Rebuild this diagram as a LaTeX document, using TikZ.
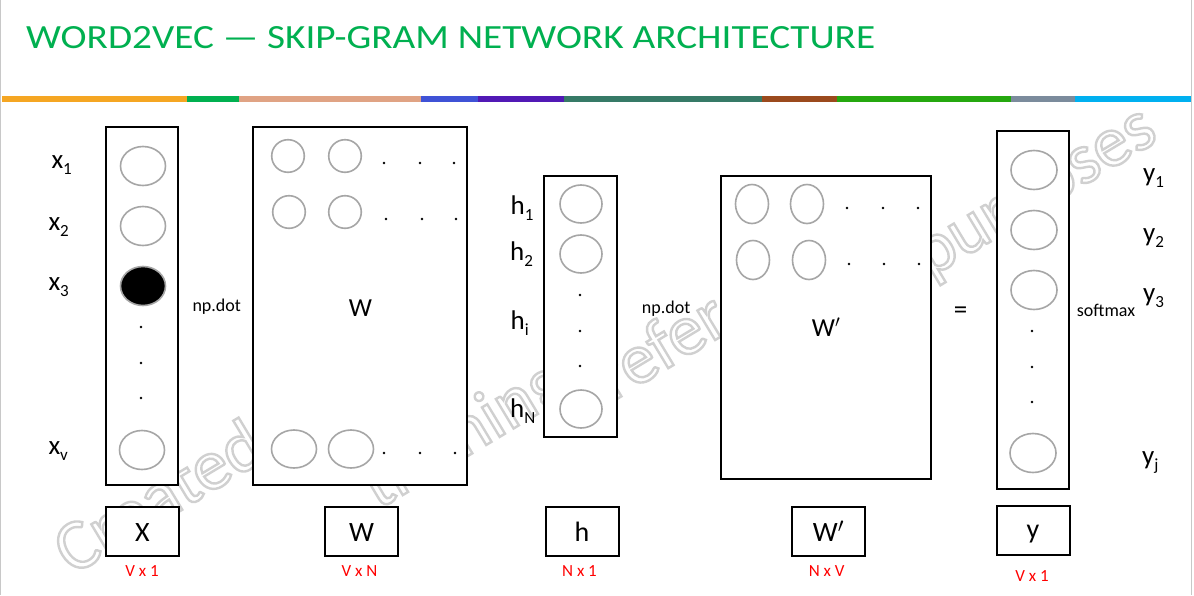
\documentclass[tikz,border=0pt]{standalone}
\usepackage{fontspec}
\setmainfont{Carlito}
\usepackage{graphicx}
\definecolor{titlegreen}{HTML}{00B050}
\definecolor{cA}{HTML}{F5A623}
\definecolor{cB}{HTML}{00B050}
\definecolor{cC}{HTML}{E0A384}
\definecolor{cD}{HTML}{3F52D6}
\definecolor{cE}{HTML}{5119B5}
\definecolor{cF}{HTML}{367A67}
\definecolor{cG}{HTML}{9B4A1D}
\definecolor{cH}{HTML}{25A80F}
\definecolor{cI}{HTML}{7B8B9C}
\definecolor{cJ}{HTML}{00B0F0}
\definecolor{cellgray}{HTML}{A6A6A6}
\definecolor{edgegray}{HTML}{C8C8C8}
\definecolor{wmgray}{HTML}{D0D0D0}
\newcommand\fsz[1]{\fontsize{#1}{#1}\selectfont}
\newcommand\sublab[2]{\fsz{27}#1\raisebox{-6.4pt}{\fsz{17}#2}}
\newcommand\strokeon{\special{pdf:literal direct 1 Tr 2.4 w}}
\newcommand\strokeoff{\special{pdf:literal direct 0 Tr}}
\newcommand\wmtext[1]{\strokeon #1\strokeoff}
\begin{document}
\begin{tikzpicture}[x=1pt,y=-1pt,
  bigbox/.style={draw=black, line width=2pt, fill=white},
  cell/.style={draw=cellgray, line width=1.6pt},
  smallbox/.style={draw=black, line width=2pt, fill=white, minimum width=73pt, minimum height=49pt, inner sep=0pt},
  lab/.style={anchor=base west, inner sep=0pt},
  small/.style={anchor=base west, inner sep=0pt, font=\fsz{18}},
  dimlab/.style={anchor=base, inner sep=0pt, text=red, font=\fsz{17}},
  boxlet/.style={anchor=base, inner sep=0pt, font=\fsz{28}},
  wm/.style={rotate=31, anchor=base west, inner sep=0pt, text=wmgray, font=\fsz{72}}]
\useasboundingbox (0,0) rectangle (1194,595);
\fill[white] (0,0) rectangle (1194,595);
\draw[edgegray, line width=1.2pt] (0.8,0) -- (0.8,595);
\draw[edgegray, line width=1.5pt] (1191.5,0) -- (1191.5,595);
% title
\node[anchor=south west, inner sep=0pt, text=titlegreen] (title) at (26,49)
  {\resizebox{849pt}{22pt}{WORD2VEC — SKIP-GRAM NETWORK ARCHITECTURE}};
% colour bar
\fill[cA] (2,96) rectangle (187,102);
\fill[cB] (187,96) rectangle (239,102);
\fill[cC] (239,96) rectangle (421,102);
\fill[cD] (421,96) rectangle (478,102);
\fill[cE] (478,96) rectangle (564,102);
\fill[cF] (564,96) rectangle (762,102);
\fill[cG] (762,96) rectangle (837,102);
\fill[cH] (837,96) rectangle (1011,102);
\fill[cI] (1011,96) rectangle (1075,102);
\fill[cJ] (1075,96) rectangle (1191,102);
% watermark (outlined text, behind the drawing)
\node[wm] (wm1) at (72,576) {\wmtext{Created}};
\node[wm] (wm2) at (292,466) {\wmtext{for}};
\node[wm] (wm3) at (378,510) {\wmtext{training}};
\node[wm] (wm4) at (612,402) {\wmtext{reference}};
\node[wm] (wm5) at (930,278) {\wmtext{purposes}};
% X column
\draw[bigbox] (106,127) rectangle (178,485);
\draw[cell] (143,166) ellipse [x radius=22.5, y radius=19.5];
\draw[cell] (143,226) ellipse [x radius=22.5, y radius=19.5];
\draw[cell, fill=black] (143,286) ellipse [x radius=22.5, y radius=19.5];
\draw[cell] (142,450) ellipse [x radius=22.5, y radius=19.5];
\foreach \yy in {327,363,398} \fill (141,\yy) circle (1.4);
\node[lab] (x1) at (51.3,168.3) {\sublab{x}{1}};
\node[lab] (x2) at (48.3,230) {\sublab{x}{2}};
\node[lab] (x3) at (48.3,290) {\sublab{x}{3}};
\node[lab] (xv) at (48.3,454) {\sublab{x}{v}};
\node[small] (dot1) at (192.3,311.7) {np.dot};
% W matrix
\draw[bigbox] (253,127) rectangle (467,485);
\foreach \xx in {288,345} \draw[cell] (\xx,156) ellipse [x radius=16.3, y radius=16.3];
\draw[cell] (289,212) ellipse [x radius=16.3, y radius=16.3];
\draw[cell] (345,212) ellipse [x radius=16.3, y radius=16.3];
\draw[cell] (294,449) ellipse [x radius=22.5, y radius=19];
\draw[cell] (351,449) ellipse [x radius=22.5, y radius=19];
\foreach \xx in {384,420,454} \fill (\xx,163) circle (1.4);
\foreach \xx in {386,422,456} \fill (\xx,219) circle (1.4);
\foreach \xx in {384,420,455} \fill (\xx,453) circle (1.4);
\node[anchor=base, inner sep=0pt, font=\fsz{26}] (Wlab) at (360.5,316) {W};
% h column
\draw[bigbox] (544,176) rectangle (617,437);
\draw[cell] (581,204) ellipse [x radius=21, y radius=19];
\draw[cell] (581,254) ellipse [x radius=21, y radius=19];
\draw[cell] (581,409) ellipse [x radius=21, y radius=19];
\foreach \yy in {295,331,366} \fill (580,\yy) circle (1.4);
\node[lab] (h1) at (510.5,214) {\sublab{h}{1}};
\node[lab] (h2) at (510,260) {\sublab{h}{2}};
\node[lab] (hi) at (510.5,329) {\sublab{h}{i}};
\node[lab] (hN) at (510,417) {\sublab{h}{N}};
\node[small] (dot2) at (641.7,313) {np.dot};
% W' matrix
\draw[bigbox] (721,176) rectangle (931,479);
\draw[cell] (752,204) ellipse [x radius=16.5, y radius=19.5];
\draw[cell] (807,204) ellipse [x radius=16.5, y radius=19.5];
\draw[cell] (753,260) ellipse [x radius=16.5, y radius=19.5];
\draw[cell] (809,260) ellipse [x radius=16.5, y radius=19.5];
\foreach \xx in {847,883,918} \fill (\xx,208) circle (1.4);
\foreach \xx in {849,884,919} \fill (\xx,264) circle (1.4);
\node[anchor=base west, inner sep=0pt, font=\fsz{26}] (Wplab) at (811.7,336.7) {W$'$};
\node[inner sep=0pt, font=\fsz{27}] (eq) at (960.5,312.5) {=};
% y column
\draw[bigbox] (997,131) rectangle (1069,489);
\draw[cell] (1034,170) ellipse [x radius=23, y radius=19.5];
\draw[cell] (1034,230) ellipse [x radius=23, y radius=19.5];
\draw[cell] (1034,290) ellipse [x radius=23, y radius=19.5];
\draw[cell] (1033,453) ellipse [x radius=23, y radius=19.5];
\foreach \yy in {331,367,402} \fill (1032,\yy) circle (1.4);
\node[small] (smax) at (1076.7,316.7) {softmax};
\node[lab] (y1) at (1143,181) {\sublab{y}{1}};
\node[lab] (y2) at (1143,241) {\sublab{y}{2}};
\node[lab] (y3) at (1143,301) {\sublab{y}{3}};
\node[lab] (yj) at (1142,464) {\sublab{y}{j}};
% bottom boxes
\node[smallbox] (bX) at (142.5,531.5) {};
\node[smallbox] (bW) at (361.5,531.5) {};
\node[smallbox] (bh) at (582,531.5) {};
\node[smallbox] (bWp) at (828.5,531.5) {};
\node[smallbox] (by) at (1033,530.5) {};
\node[boxlet] (tX) at (bX.center |- 0,541.7) {X};
\node[boxlet] (tW) at (bW.center |- 0,541.7) {W};
\node[boxlet] (th) at (bh.center |- 0,541.7) {h};
\node[boxlet] (tWp) at (bWp.center |- 0,541.7) {W$'$};
\node[boxlet] (ty) at (by.center |- 0,538) {y};
\node[dimlab] (dX) at (142,576) {V x 1};
\node[dimlab] (dW) at (359.5,576) {V x N};
\node[dimlab] (dh) at (579.5,576) {N x 1};
\node[dimlab] (dWp) at (826.6,576) {N x V};
\node[dimlab] (dy) at (1032,581) {V x 1};
\end{tikzpicture}
\end{document}
